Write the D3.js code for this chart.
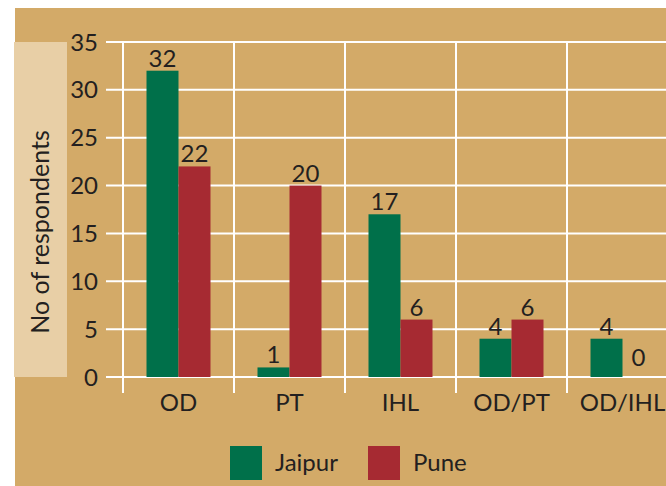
<!doctype html>
<html lang="en">
<head>
  <meta charset="utf-8">
  <title>No of respondents</title>
  <style>
    body { margin: 0; background: #fff; }
    svg text { font-family: Lato, "Open Sans", sans-serif; fill: #231F20; }
  </style>
</head>
<body>
  <div id="chart"></div>
  <script src="https://d3js.org/d3.v7.min.js"></script>
  <script>
    // Data --------------------------------------------------------------------
    const categories = ["OD", "PT", "IHL", "OD/PT", "OD/IHL"];
    const series = ["Jaipur", "Pune"];
    const jaipur = [32, 1, 17, 4, 4];
    const pune = [22, 20, 6, 6, 0];
    const yTicks = [0, 5, 10, 15, 20, 25, 30, 35];
    const colors = ["#00704A", "#A62A32"];

    const values = [jaipur, pune];

    // Canvas ------------------------------------------------------------------
    const width = 666;
    const height = 486;
    const fontSize = "24px";

    const svg = d3.select("#chart")
      .append("svg")
      .attr("width", width)
      .attr("height", height);

    svg.append("rect")
      .attr("x", 15).attr("y", 8)
      .attr("width", width - 15).attr("height", height - 8)
      .attr("fill", "#D3AA68");

    svg.append("rect")
      .attr("x", 14).attr("y", 42)
      .attr("width", 53).attr("height", 335)
      .attr("fill", "#E8CFA6");

    // Scales ------------------------------------------------------------------
    const x0 = d3.scaleBand()
      .domain(categories)
      .range([123, 678]);

    const groupWidth = 64;
    const x1 = d3.scaleBand()
      .domain(series)
      .range([0, groupWidth]);

    const y = d3.scaleLinear()
      .domain([0, 35])
      .range([377, 42]);

    // Grid --------------------------------------------------------------------
    const grid = svg.append("g");

    grid.selectAll("line.h")
      .data(yTicks)
      .join("line")
      .attr("class", "h")
      .attr("x1", 106).attr("x2", width)
      .attr("y1", d => y(d)).attr("y2", d => y(d))
      .attr("stroke", "#fff")
      .attr("stroke-width", 2);

    grid.selectAll("line.v")
      .data(categories)
      .join("line")
      .attr("class", "v")
      .attr("x1", d => x0(d)).attr("x2", d => x0(d))
      .attr("y1", y(35)).attr("y2", y(0) + 16)
      .attr("stroke", "#fff")
      .attr("stroke-width", 2);

    // Axis labels -------------------------------------------------------------
    svg.append("g")
      .selectAll("text")
      .data(yTicks)
      .join("text")
      .attr("x", 98)
      .attr("y", d => y(d))
      .attr("dy", "0.36em")
      .attr("text-anchor", "end")
      .style("font-size", fontSize)
      .text(d => d);

    svg.append("g")
      .selectAll("text")
      .data(categories)
      .join("text")
      .attr("x", d => x0(d) + x0.bandwidth() / 2)
      .attr("y", 411)
      .attr("text-anchor", "middle")
      .style("font-size", fontSize)
      .text(d => d);

    svg.append("text")
      .attr("transform", "translate(49, 232) rotate(-90)")
      .attr("text-anchor", "middle")
      .style("font-size", "25px")
      .text("No of respondents");

    // Bars --------------------------------------------------------------------
    const groups = svg.append("g")
      .selectAll("g")
      .data(categories)
      .join("g")
      .attr("transform", d =>
        `translate(${x0(d) + (x0.bandwidth() - groupWidth) / 2}, 0)`);

    const cells = groups.selectAll("g")
      .data((c, i) => series.map((s, j) => ({ s, j, v: values[j][i] })))
      .join("g");

    cells.append("rect")
      .attr("x", d => x1(d.s))
      .attr("y", d => y(d.v))
      .attr("width", x1.bandwidth())
      .attr("height", d => y(0) - y(d.v))
      .attr("fill", d => colors[d.j]);

    cells.append("text")
      .attr("x", d => x1(d.s) + x1.bandwidth() / 2)
      .attr("y", d => Math.min(y(d.v), y(0) - 7) - 4)
      .attr("text-anchor", "middle")
      .style("font-size", fontSize)
      .text(d => d.v);

    // Legend ------------------------------------------------------------------
    const legend = svg.append("g")
      .selectAll("g")
      .data(series)
      .join("g")
      .attr("transform", (d, i) => `translate(${[230, 368][i]}, 446)`);

    legend.append("rect")
      .attr("width", 32)
      .attr("height", 34)
      .attr("fill", (d, i) => colors[i]);

    legend.append("text")
      .attr("x", 45)
      .attr("y", 25)
      .style("font-size", fontSize)
      .text(d => d);
  </script>
</body>
</html>
